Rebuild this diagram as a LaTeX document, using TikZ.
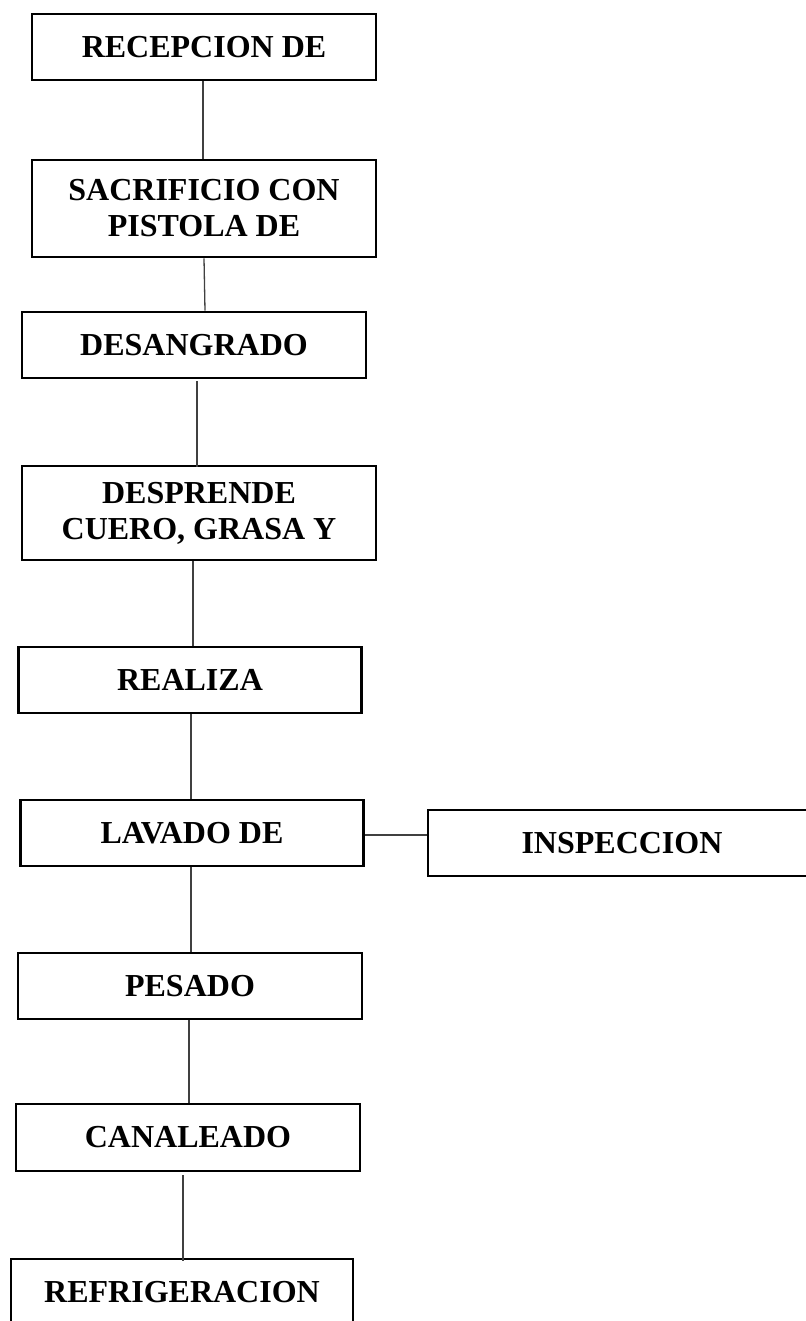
\documentclass[tikz,border=0pt]{standalone}
\usepackage{fontspec}
\setmainfont{Liberation Serif}
\begin{document}
\begin{tikzpicture}[x=1pt,y=-1pt,
  box/.style={draw=black,line width=2.6pt,inner sep=0pt,minimum height=66pt,
    minimum width=344pt,align=center,
    font=\fontsize{32}{36}\selectfont\bfseries},
  conn/.style={draw=black!75,line width=1.3pt}]
\useasboundingbox (0,0) rectangle (805,1321);
\node[box] (b1) at (204,47) {RECEPCION DE};
\node[box,minimum height=97pt] (b2) at (204,208.5) {SACRIFICIO CON\\PISTOLA DE};
\node[box] (b3) at (194,345) {DESANGRADO};
\node[box,minimum width=354pt,minimum height=94pt] (b4) at (199,513) {DESPRENDE\\CUERO, GRASA Y};
\node[box,minimum width=343pt] (b5) at (190,680) {REALIZA};
\node[box,minimum width=343pt] (b6) at (192,833) {LAVADO DE};
\node[box,minimum width=388pt] (b7) at (622,843) {INSPECCION};
\node[box] (b8) at (190,986) {PESADO};
\node[box,minimum height=67pt] (b9) at (188,1137.5) {CANALEADO};
\node[box,minimum width=342pt] (b10) at (182,1292) {REFRIGERACION};

\draw[conn] ([xshift=-1pt]b1.south) -- ([xshift=-1pt]b1.south |- b2.north);
\draw[conn] ([xshift=0pt]b2.south) -- ([xshift=11pt]b3.north);
\draw[conn] ([xshift=3pt,yshift=-2pt]b3.south) -- ([xshift=3pt,yshift=-2pt]b3.south |- b4.north);
\draw[conn] ([xshift=-6pt]b4.south) -- ([xshift=-6pt]b4.south |- b5.north);
\draw[conn] ([xshift=1pt]b5.south) -- ([xshift=1pt]b5.south |- b6.north);
\draw[conn] ([yshift=-2pt]b6.east) -- ([yshift=-2pt]b6.east -| b7.west);
\draw[conn] ([xshift=-1pt]b6.south) -- ([xshift=-1pt]b6.south |- b8.north);
\draw[conn] ([xshift=-1pt]b8.south) -- ([xshift=-1pt]b8.south |- b9.north);
\draw[conn] ([xshift=-5pt,yshift=-3pt]b9.south) -- ([xshift=-5pt,yshift=-3pt]b9.south |- b10.north);
\end{tikzpicture}
\end{document}
